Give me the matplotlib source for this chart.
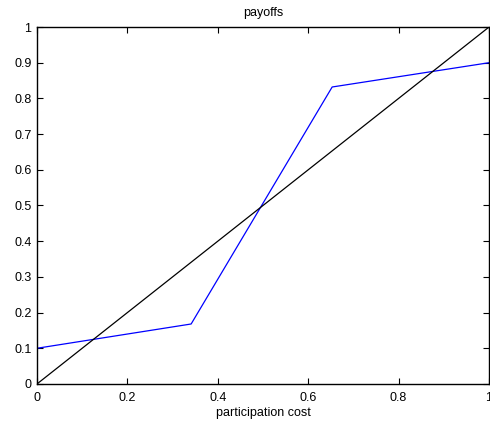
import matplotlib
matplotlib.use('Agg')
import matplotlib.pyplot as plt

plt.rcParams['font.family'] = ['Liberation Sans', 'DejaVu Sans']

# payoff curve (blue) and diagonal (black)
cost = [0, 0.341, 0.653, 1.0]
payoff = [0.10, 0.168, 0.832, 0.90]
diag_x = [0, 1]
diag_y = [0, 1]

xticks = [0, 0.2, 0.4, 0.6, 0.8, 1]
xticklabels = ['0', '0.2', '0.4', '0.6', '0.8', '1']
yticks = [0, 0.1, 0.2, 0.3, 0.4, 0.5, 0.6, 0.7, 0.8, 0.9, 1]
yticklabels = ['0', '0.1', '0.2', '0.3', '0.4', '0.5', '0.6', '0.7', '0.8', '0.9', '1']

fig = plt.figure(figsize=(4.9, 4.29), dpi=100)
ax = fig.add_axes([0.0755, 0.105, 0.9225, 0.832])

ax.plot(cost, payoff, color='#0000ff', linewidth=0.9)
ax.plot(diag_x, diag_y, color='black', linewidth=0.9)

ax.set_xlim(0, 1)
ax.set_ylim(0, 1)
ax.set_xticks(xticks)
ax.set_xticklabels(xticklabels)
ax.set_yticks(yticks)
ax.set_yticklabels(yticklabels)
ax.tick_params(direction='in', top=True, right=True, labelsize=9, length=4, width=0.8, pad=4)
ax.tick_params(axis='x', pad=6)
for s in ax.spines.values():
    s.set_linewidth(1.0)

ax.set_title('payoffs', fontsize=9, pad=8)
ax.set_xlabel('participation cost', fontsize=9, labelpad=2)

fig.savefig('out.png', dpi=100)
